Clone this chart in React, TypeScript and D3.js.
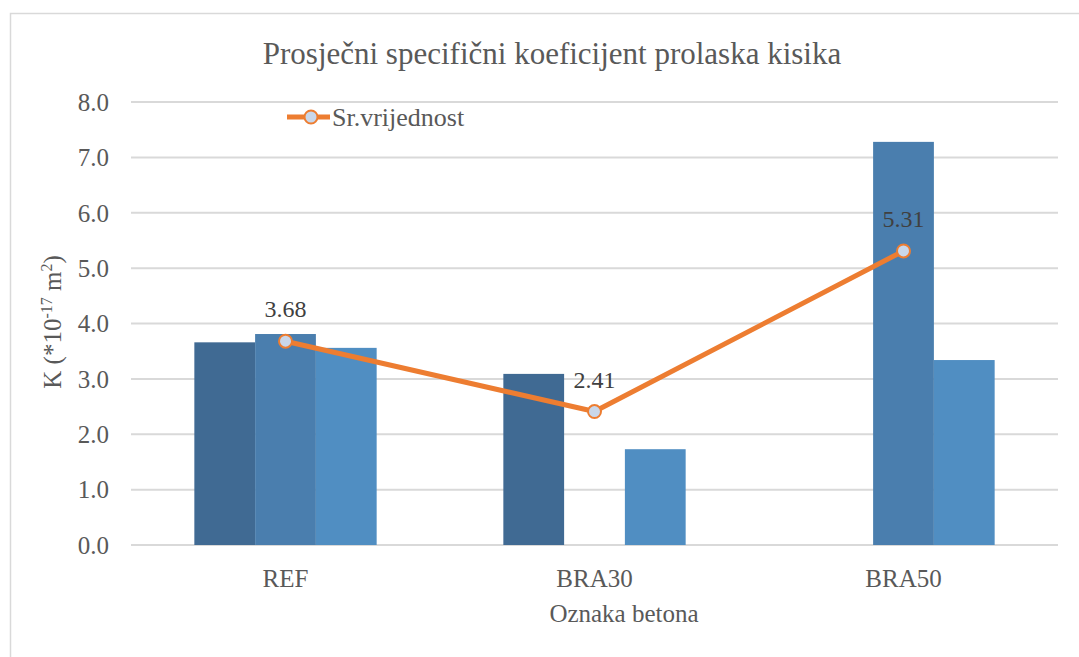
import * as d3 from "d3";
import { useEffect, useRef } from "react";

const categories = ["REF", "BRA30", "BRA50"];
const series1 = [3.66, 3.09, null];
const series2 = [3.81, null, 7.28];
const series3 = [3.56, 1.73, 3.34];
const average = [3.68, 2.41, 5.31];
const yTicks = [0, 1, 2, 3, 4, 5, 6, 7, 8];
const barColors = ["#406a93", "#4a7eae", "#508ec2"];

const W = 1079;
const H = 657;

const App = () => {
  const ref = useRef<SVGSVGElement>(null);

  useEffect(() => {
    const svg = d3.select(ref.current);
    svg.selectAll("*").remove();

    const margin = { top: 102, left: 131, right: 21, bottom: 112 };
    const font = "Liberation Serif, Tinos, Times New Roman, Times, serif";

    // рамка
    svg.append("rect")
      .attr("x", 10.5).attr("y", 13.5)
      .attr("width", W + 20).attr("height", H + 20)
      .attr("fill", "white").attr("stroke", "#d9d9d9").attr("stroke-width", 1.5);

    const x = d3.scaleBand().domain(categories).range([margin.left, W - margin.right]).paddingInner(0.41).paddingOuter(0.205);
    const y = d3.scaleLinear().domain([0, 8]).range([H - margin.bottom, margin.top]);
    const band = d3.scaleBand().domain(["0", "1", "2"]).range([0, x.bandwidth()]);

    // сетка
    svg.append("g").selectAll("line").data(yTicks).enter().append("line")
      .attr("x1", margin.left).attr("x2", W - margin.right)
      .attr("y1", d => y(d)).attr("y2", d => y(d))
      .attr("stroke", "#d9d9d9").attr("stroke-width", 2);

    svg.append("g").selectAll("text").data(yTicks).enter().append("text")
      .attr("x", 109).attr("y", d => y(d)).attr("dy", "0.35em")
      .attr("text-anchor", "end").style("font-family", font).attr("font-size", 25)
      .attr("fill", "#595959").text(d => d.toFixed(1));

    // столбцы
    [series1, series2, series3].forEach((s, i) => {
      svg.append("g").selectAll("rect")
        .data(s.map((v, j) => ({ v, c: categories[j] })).filter(d => d.v !== null))
        .enter().append("rect")
        .attr("x", d => (x(d.c) as number) + (band(String(i)) as number))
        .attr("y", d => y(d.v as number))
        .attr("width", band.bandwidth())
        .attr("height", d => y(0) - y(d.v as number))
        .attr("fill", barColors[i]);
    });

    // линия среднего
    const cx = (c: string) => (x(c) as number) + x.bandwidth() / 2;
    const line = d3.line<number>().x((_, j) => cx(categories[j])).y(d => y(d));
    svg.append("path").attr("d", line(average) as string)
      .attr("fill", "none").attr("stroke", "#ed7d31").attr("stroke-width", 5)
      .attr("stroke-linejoin", "round");

    svg.append("g").selectAll("circle").data(average).enter().append("circle")
      .attr("cx", (_, j) => cx(categories[j])).attr("cy", d => y(d)).attr("r", 6.5)
      .attr("fill", "#c9d7ea").attr("stroke", "#ed7d31").attr("stroke-width", 2);

    svg.append("g").selectAll("text").data(average).enter().append("text")
      .attr("x", (_, j) => cx(categories[j])).attr("y", d => y(d) - 24)
      .attr("text-anchor", "middle").style("font-family", font).attr("font-size", 24)
      .attr("fill", "#404040").text(d => d.toFixed(2));

    // подписи оси X
    svg.append("g").selectAll("text").data(categories).enter().append("text")
      .attr("x", d => cx(d)).attr("y", 587)
      .attr("text-anchor", "middle").style("font-family", font).attr("font-size", 25)
      .attr("fill", "#595959").text(d => d);

    svg.append("text").attr("x", 624).attr("y", 622)
      .attr("text-anchor", "middle").style("font-family", font).attr("font-size", 25)
      .attr("fill", "#595959").text("Oznaka betona");

    // подпись оси Y
    const yl = svg.append("text")
      .attr("transform", `translate(61, 322) rotate(-90)`)
      .attr("text-anchor", "middle").style("font-family", font).attr("font-size", 25)
      .attr("fill", "#595959");
    yl.append("tspan").text("K (*10");
    yl.append("tspan").attr("font-size", 16).attr("dy", -9).text("-17");
    yl.append("tspan").attr("dy", 9).text(" m");
    yl.append("tspan").attr("font-size", 16).attr("dy", -9).text("2");
    yl.append("tspan").attr("dy", 9).text(")");

    // заголовок
    svg.append("text").attr("x", 552).attr("y", 64)
      .attr("text-anchor", "middle").style("font-family", font).attr("font-size", 31)
      .attr("fill", "#595959").text("Prosječni specifični koeficijent prolaska kisika");

    // легенда
    const lg = svg.append("g");
    lg.append("line").attr("x1", 287).attr("x2", 330).attr("y1", 117).attr("y2", 117)
      .attr("stroke", "#ed7d31").attr("stroke-width", 5);
    lg.append("circle").attr("cx", 311).attr("cy", 117).attr("r", 6.5)
      .attr("fill", "#c9d7ea").attr("stroke", "#ed7d31").attr("stroke-width", 2);
    lg.append("text").attr("x", 332).attr("y", 117).attr("dy", "0.35em")
      .style("font-family", font).attr("font-size", 26).attr("fill", "#595959").text("Sr.vrijednost");
  }, []);

  return (
    <svg ref={ref} width={W} height={H} style={{ position: "absolute", left: 0, top: 0 }}></svg>
  );
};

export default App;
